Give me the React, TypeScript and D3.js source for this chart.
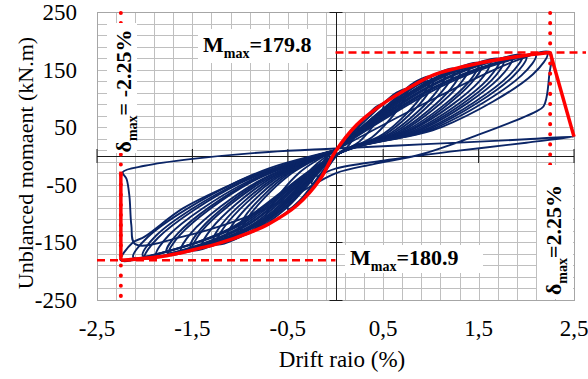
import * as d3 from 'd3';

type Pt = [number, number];

// axis ticks (labels use comma decimals)
const xTicks = [-2.5, -1.5, -0.5, 0.5, 1.5, 2.5];
const yTicks = [250, 150, 50, -50, -150, -250];

// cyclic loops: pinch -> +peak -> pinch -> -peak -> pinch
const loops: Pt[][] = [
  [[0, 10], [0.12, 33], [0.21, 52], [0.25, 55], [0.23, 44], [0.12, 15], [0.03, 4], [-0.12, -29], [-0.21, -46], [-0.25, -48], [-0.23, -38], [-0.12, -8], [0, 10]],
  [[0, 10], [0.25, 55], [0.43, 86], [0.5, 90], [0.47, 72], [0.25, 25], [0.03, 4], [-0.25, -55], [-0.43, -87], [-0.5, -92], [-0.47, -74], [-0.25, -22], [0, 10]],
  [[0, 10], [0.38, 72], [0.64, 110], [0.75, 116], [0.7, 93], [0.38, 32], [0.03, 4], [-0.38, -78], [-0.64, -112], [-0.75, -118], [-0.7, -94], [-0.38, -29], [0, 10]],
  [[0, 10], [0.5, 82], [0.85, 130], [1.0, 137], [0.93, 110], [0.5, 38], [0.03, 4], [-0.5, -88], [-0.85, -130], [-1.0, -137], [-0.93, -110], [-0.5, -35], [0, 10]],
  [[0, 10], [0.51, 80], [0.87, 124], [1.02, 130], [0.95, 104], [0.51, 36], [0.03, 4], [-0.51, -86], [-0.87, -124], [-1.02, -131], [-0.95, -105], [-0.51, -33], [0, 10]],
  [[0, 10], [0.58, 92], [0.98, 136], [1.15, 143], [1.07, 114], [0.58, 40], [0.03, 4], [-0.58, -96], [-0.98, -139], [-1.15, -146], [-1.07, -117], [-0.58, -38], [0, 10]],
  [[0, 10], [0.63, 97], [1.06, 143], [1.25, 151], [1.16, 121], [0.63, 42], [0.03, 4], [-0.63, -100], [-1.06, -145], [-1.25, -153], [-1.16, -122], [-0.63, -40], [0, 10]],
  [[0, 10], [0.65, 95], [1.1, 139], [1.3, 146], [1.21, 117], [0.65, 41], [0.03, 4], [-0.64, -98], [-1.09, -141], [-1.28, -148], [-1.19, -118], [-0.64, -38], [0, 10]],
  [[0, 10], [0.7, 102], [1.19, 147], [1.4, 155], [1.3, 124], [0.7, 43], [0.03, 4], [-0.7, -106], [-1.19, -150], [-1.4, -158], [-1.3, -126], [-0.7, -41], [0, 10]],
  [[0, 10], [0.75, 106], [1.28, 153], [1.5, 161], [1.4, 129], [0.75, 45], [0.03, 4], [-0.75, -112], [-1.28, -155], [-1.5, -163], [-1.4, -130], [-0.75, -43], [0, 10]],
  [[0, 10], [0.77, 105], [1.3, 149], [1.53, 157], [1.42, 126], [0.77, 44], [0.03, 4], [-0.76, -109], [-1.29, -150], [-1.52, -158], [-1.41, -126], [-0.76, -41], [0, 10]],
  [[0, 10], [0.81, 111], [1.38, 155], [1.62, 163], [1.51, 130], [0.81, 46], [0.03, 4], [-0.81, -116], [-1.38, -158], [-1.62, -166], [-1.51, -133], [-0.81, -44], [0, 10]],
  [[0, 10], [0.86, 114], [1.46, 160], [1.72, 168], [1.6, 134], [0.86, 47], [0.03, 4], [-0.88, -120], [-1.49, -162], [-1.75, -171], [-1.63, -137], [-0.88, -45], [0, 10]],
  [[0, 10], [0.88, 112], [1.5, 157], [1.76, 165], [1.64, 132], [0.88, 46], [0.03, 4], [-0.89, -117], [-1.5, -159], [-1.77, -167], [-1.65, -134], [-0.89, -44], [0, 10]],
  [[0, 10], [0.93, 116], [1.57, 162], [1.85, 170], [1.72, 136], [0.93, 48], [0.03, 4], [-0.94, -121], [-1.6, -164], [-1.88, -173], [-1.75, -138], [-0.94, -46], [0, 10]],
  [[0, 10], [0.98, 119], [1.67, 166], [1.96, 175], [1.82, 140], [0.98, 49], [0.03, 4], [-1.0, -124], [-1.7, -168], [-2.0, -177], [-1.86, -142], [-1.0, -47], [0, 10]],
  [[0, 10], [1.0, 117], [1.7, 163], [2.0, 172], [1.86, 138], [1.0, 48], [0.03, 4], [-1.01, -121], [-1.72, -164], [-2.02, -173], [-1.88, -138], [-1.01, -46], [0, 10]],
  [[0, 10], [1.05, 119], [1.79, 166], [2.1, 175], [1.95, 140], [1.05, 49], [0.03, 4], [-1.06, -123], [-1.8, -167], [-2.12, -176], [-1.97, -141], [-1.06, -47], [0, 10]],
  [[0, 10], [1.11, 121], [1.89, 169], [2.22, 178], [2.07, 142], [1.11, 50], [0.03, 4], [-1.12, -127], [-1.91, -172], [-2.25, -180.9], [-2.13, -151], [-2.0, -140], [-1.6, -91], [-1.1, -50], [-0.69, -21], [0, 10]],
];

// last cycles: peak at 2.25 %, strength drop, reload to 2.5 %
const finalPath: Pt[] = [
  [0, 10], [1.1, 105], [1.9, 166], [2.25, 179.8], [2.24, 140], [2.21, 100], [2.18, 86], [2.1, 77],
  [1.5, 37], [0.9, 3], [0.4, -14], [0, -30], [-0.5, -75], [-1.0, -110], [-1.6, -140], [-2.1, -153],
  [-2.14, -120], [-2.16, -70], [-2.19, -40], [-2.23, -28], [-2.0, -17], [-1.5, -5], [-0.7, 7], [0, 13],
  [1.0, 21], [2.0, 29], [2.5, 33.6], [2.0, 23], [1.2, 7.5], [0.5, -8], [0, -22], [-0.2, -36],
];

// backbone (envelope) curve: drop at -2.25 %, smooth backbone, drop after +2.25 %
const envelopeDropNeg: Pt[] = [[-2.25, -27], [-2.25, -180.9]];
const envelope: Pt[] = [
  [-2.25, -180.9], [-1.77, -173], [-1.42, -160], [-1.25, -153], [-0.9, -133],
  [-0.7, -118], [-0.4, -85], [-0.16, -40], [0, 8], [0.22, 54], [0.5, 91], [0.85, 126],
  [1.03, 141], [1.5, 161], [2.0, 175], [2.25, 179.8],
];
const envelopeDropPos: Pt[] = [[2.25, 179.8], [2.5, 33.6]];

const mPos = 179.8;
const mNeg = -180.9;
const dPos = 2.25;
const dNeg = -2.25;

const W = 588;
const H = 379;
const L = 97, R = 574, T = 12, B = 300;
const FONT = '"Liberation Serif", "Times New Roman", serif';
const BLUE = '#0b2566';
const RED = '#ff0000';

export default function App() {
  const x = d3.scaleLinear().domain([-2.5, 2.5]).range([L, R]);
  const y = d3.scaleLinear().domain([-250, 250]).range([B, T]);

  const smooth = d3
    .line<Pt>()
    .x((d) => x(d[0]))
    .y((d) => y(d[1]))
    .curve(d3.curveCatmullRom.alpha(0.5));
  const straight = d3
    .line<Pt>()
    .x((d) => x(d[0]))
    .y((d) => y(d[1]));

  const xGrid = d3.range(-2.5, 2.5001, 0.2);
  const yGrid = d3.range(-250, 250.001, 20);
  const fmt = (v: number) => d3.format('.1f')(v).replace('.', ',').replace('−', '-');

  const x0 = x(0);
  const y0 = y(0);

  return (
    <svg width={W} height={H} style={{ position: 'absolute', left: 0, top: 0, background: '#fff' }} fontFamily={FONT}>
      <rect width={W} height={H} fill="#fff" />
      {/* grid */}
      <g stroke="#bfbfbf" strokeWidth={1}>
        {xGrid.map((v, i) => (
          <line key={'gx' + i} x1={Math.round(x(v)) + 0.5} x2={Math.round(x(v)) + 0.5} y1={T} y2={B} />
        ))}
        {yGrid.map((v, i) => (
          <line key={'gy' + i} x1={L} x2={R} y1={Math.round(y(v)) + 0.5} y2={Math.round(y(v)) + 0.5} />
        ))}
      </g>
      <rect x={L + 0.5} y={T + 0.5} width={R - L} height={B - T} fill="none" stroke="#a6a6a6" />

      {/* axes through origin */}
      <g stroke="#1a1a1a" strokeWidth={1}>
        <line x1={L} x2={R} y1={Math.round(y0) + 0.5} y2={Math.round(y0) + 0.5} />
        <line x1={Math.round(x0) + 0.5} x2={Math.round(x0) + 0.5} y1={T} y2={B} />
        {xTicks.map((v) => (
          <line key={'tx' + v} x1={x(v)} x2={x(v)} y1={y0 - 7} y2={y0 + 7} />
        ))}
        {yTicks.map((v) => (
          <line key={'ty' + v} x1={x0 - 6} x2={x0 + 7} y1={Math.round(y(v)) + 0.5} y2={Math.round(y(v)) + 0.5} />
        ))}
      </g>

      {/* hysteresis loops */}
      <g fill="none" stroke={BLUE} strokeWidth={1.9} strokeLinejoin="round">
        {loops.map((lp, i) => (
          <path key={'lp' + i} d={smooth(lp) ?? ''} />
        ))}
        <path d={smooth(finalPath) ?? ''} />
      </g>

      {/* envelope */}
      <g fill="none" stroke={RED} strokeWidth={3.5} strokeLinejoin="round">
        <path d={straight(envelopeDropNeg) ?? ''} />
        <path d={smooth(envelope) ?? ''} />
        <path d={straight(envelopeDropPos) ?? ''} />
      </g>

      {/* reference lines */}
      <g stroke={RED} fill="none">
        <line x1={x0} x2={586} y1={y(mPos)} y2={y(mPos)} strokeWidth={2.5} strokeDasharray="8 5" />
        <line x1={L} x2={x0} y1={y(mNeg)} y2={y(mNeg)} strokeWidth={2.5} strokeDasharray="8 5" />
        <line x1={x(dPos)} x2={x(dPos)} y1={T + 1} y2={B} strokeWidth={4} strokeDasharray="0.1 10" strokeLinecap="round" />
        <line x1={x(dNeg)} x2={x(dNeg)} y1={T + 1} y2={296} strokeWidth={4} strokeDasharray="0.1 10" strokeLinecap="round" />
      </g>

      {/* annotation boxes */}
      <g fill="#fff">
        <rect x={107} y={23} width={30} height={130} />
        <rect x={537} y={165} width={36} height={134} />
        <rect x={198} y={29} width={128} height={34} />
        <rect x={345} y={245} width={138} height={28} />
      </g>
      <g fontWeight="bold" fill="#000" fontSize={22}>
        <text x={203} y={52}>
          M<tspan fontSize={14} dy={6}>max</tspan>
          <tspan dy={-6}>={mPos.toFixed(1)}</tspan>
        </text>
        <text x={350} y={265}>
          M<tspan fontSize={14} dy={6}>max</tspan>
          <tspan dy={-6}>={Math.abs(mNeg).toFixed(1)}</tspan>
        </text>
        <text transform="translate(131,91) rotate(-90)" textAnchor="middle">
          δ<tspan fontSize={14} dy={6}>max</tspan>
          <tspan dy={-6}>= {dNeg.toFixed(2)}%</tspan>
        </text>
        <text transform="translate(561,240) rotate(-90)" textAnchor="middle">
          δ<tspan fontSize={14} dy={6}>max</tspan>
          <tspan dy={-6}>={dPos.toFixed(2)}%</tspan>
        </text>
      </g>

      {/* tick labels and titles */}
      <g fontSize={23} fill="#000">
        {xTicks.map((v) => (
          <text key={'lx' + v} x={x(v)} y={336} textAnchor="middle">
            {fmt(v)}
          </text>
        ))}
        {yTicks.map((v) => (
          <text key={'ly' + v} x={77} y={y(v) + 8} textAnchor="end">
            {v}
          </text>
        ))}
        <text x={342} y={367} textAnchor="middle">
          Drift raio (%)
        </text>
        <text transform="translate(33,163) rotate(-90)" textAnchor="middle" fontSize={22}>
          Unblanced momaent (kN.m)
        </text>
      </g>
    </svg>
  );
}
